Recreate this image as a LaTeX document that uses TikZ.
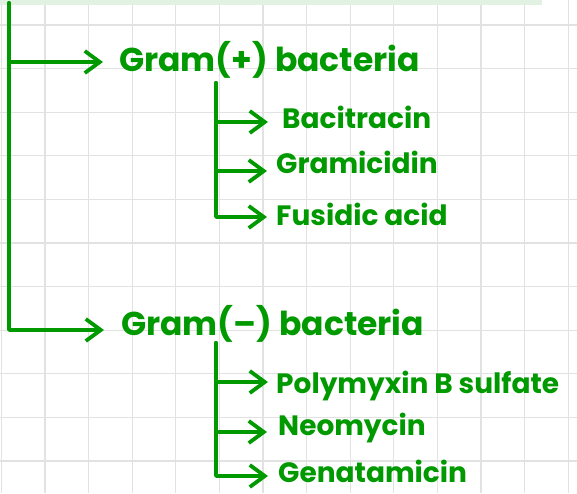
\documentclass[tikz,border=0pt]{standalone}
\usepackage{fontspec}
\setmainfont{Poppins}
\usepackage{xcolor}
\usetikzlibrary{arrows.meta,positioning,calc}
\definecolor{pen}{RGB}{0,153,0}
\definecolor{gridgray}{RGB}{226,226,226}
\definecolor{bandgreen}{RGB}{226,242,226}

\begin{document}
\begin{tikzpicture}[x=1pt,y=-1pt,
  branch/.style={pen, line width=3.8pt, line cap=round, line join=round, -{Straight Barb[length=15pt,width=22pt]}},
  head/.style={text=pen, font=\fontsize{33}{36}\selectfont\bfseries, inner sep=0pt, anchor=base west},
  item/.style={text=pen, font=\fontsize{28}{32}\selectfont\bfseries, inner sep=0pt, anchor=base west}]

% Paper: frame, grid and the green band on top
\useasboundingbox (0,0) rectangle (577,493);
\fill[white] (0,0) rectangle (577,493);
\foreach \i in {0,...,13}
  \draw[gridgray, line width=1.2pt] ({1.3+43.6*\i},0) -- ({1.3+43.6*\i},493);
\foreach \j in {0,...,10}
  \draw[gridgray, line width=1.2pt] (0,{25+43.6*\j}) -- (577,{25+43.6*\j});
\fill[bandgreen] (0,0) rectangle (542,5);

% Main stem and its two branches
\coordinate (top) at (9,3);          % top of the main stem
\coordinate (gpos) at (103,62);      % tip to Gram(+)
\coordinate (gneg) at (104,330);     % tip to Gram(-)
\draw[branch] (top) |- (gpos);
\draw[branch] (top) |- (gneg);
\node[head] (gposlabel) at (119,71) {Gram(+) bacteria};
\node[head] (gneglabel) at (121,335) {Gram(–) bacteria};

% Gram(+) drugs
\coordinate (pstem) at (216,83);     % top of the Gram(+) stem
\coordinate (baci) at (268,122);
\coordinate (grami) at (267,171);
\coordinate (fusi) at (267,217);
\draw[branch] (pstem) |- (baci);
\draw[branch] (pstem) |- (grami);
\draw[branch] (pstem) |- (fusi);
\node[item] (bacilabel) at (282,128) {Bacitracin};
\node[item] (gramilabel) at (276,173) {Gramicidin};
\node[item] (fusilabel) at (276,225) {Fusidic acid};

% Gram(-) drugs
\coordinate (nstem) at (216,343);    % top of the Gram(-) stem
\coordinate (poly) at (268,382);
\coordinate (neo) at (267,432);
\coordinate (genta) at (268,476);
\draw[branch] (nstem) |- (poly);
\draw[branch] (nstem) |- (neo);
\draw[branch] (nstem) |- (genta);
\node[item] (polylabel) at (276,393) {Polymyxin B sulfate};
\node[item] (neolabel) at (278,435) {Neomycin};
\node[item] (gentalabel) at (278,482) {Genatamicin};

\end{tikzpicture}
\end{document}
